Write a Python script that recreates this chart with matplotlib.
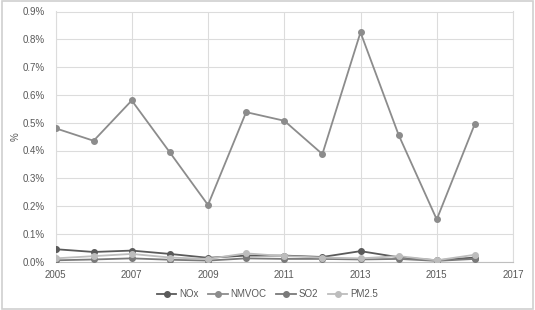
import matplotlib
matplotlib.use("Agg")
import matplotlib.pyplot as plt
from matplotlib.ticker import FuncFormatter, MultipleLocator

plt.rcParams['font.family'] = ['Liberation Sans', 'DejaVu Sans']

# data (percent)
years = [2005, 2006, 2007, 2008, 2009, 2010, 2011, 2012, 2013, 2014, 2015, 2016]
nox = [0.045, 0.035, 0.040, 0.028, 0.014, 0.022, 0.022, 0.017, 0.038, 0.016, 0.005, 0.015]
nmvoc = [0.480, 0.435, 0.580, 0.393, 0.204, 0.538, 0.507, 0.387, 0.825, 0.456, 0.152, 0.496]
so2 = [0.005, 0.008, 0.012, 0.007, 0.004, 0.012, 0.010, 0.010, 0.008, 0.010, 0.003, 0.010]
pm25 = [0.012, 0.020, 0.028, 0.015, 0.010, 0.030, 0.020, 0.015, 0.012, 0.020, 0.005, 0.025]
xticks = [2005, 2007, 2009, 2011, 2013, 2015, 2017]

names = ["NOx", "NMVOC", "SO2", "PM2.5"]
series = [nox, nmvoc, so2, pm25]
colors = ["#5a5a5a", "#8c8c8c", "#7a7a7a", "#bdbdbd"]

fig = plt.figure(figsize=(5.35, 3.10), dpi=100)
ax = fig.add_axes([55.5 / 535, 1 - 261.7 / 310, (513 - 55.5) / 535, (261.7 - 11.5) / 310])

for vals, c, n in zip(series, colors, names):
    ax.plot(years, vals, color=c, lw=1.3, marker="o", ms=4, label=n, zorder=3)

ax.set_xlim(2005, 2017)
ax.set_ylim(0, 0.9)
ax.set_xticks(xticks)
ax.yaxis.set_major_locator(MultipleLocator(0.1))
ax.yaxis.set_major_formatter(FuncFormatter(lambda v, p: "%.1f%%" % v))
ax.grid(True, color="#dcdcdc", lw=0.8)
ax.set_axisbelow(True)
for s in ["top", "right", "left"]:
    ax.spines[s].set_color("#dcdcdc")
    ax.spines[s].set_linewidth(0.8)
ax.spines["bottom"].set_color("#bfbfbf")
ax.tick_params(length=0, labelsize=7, colors="#595959")
ax.tick_params(axis="y", pad=8)
ax.tick_params(axis="x", pad=6)
ax.set_ylabel("%", fontsize=7, color="#595959")
ax.yaxis.set_label_coords(-35 / 457.5, 0.5)

fig.legend(loc="center", bbox_to_anchor=(0.5, 1 - 294 / 310), ncol=4, frameon=False,
           fontsize=7, labelcolor="#595959", handlelength=2.0, columnspacing=1.0,
           handletextpad=0.3)

# light frame around the chart
fig.patches.append(plt.Rectangle((0.003, 0.004), 0.994, 0.992, transform=fig.transFigure,
                                 fill=False, ec="#d0d0d0", lw=1.2))

fig.savefig("out.png", dpi=100)
